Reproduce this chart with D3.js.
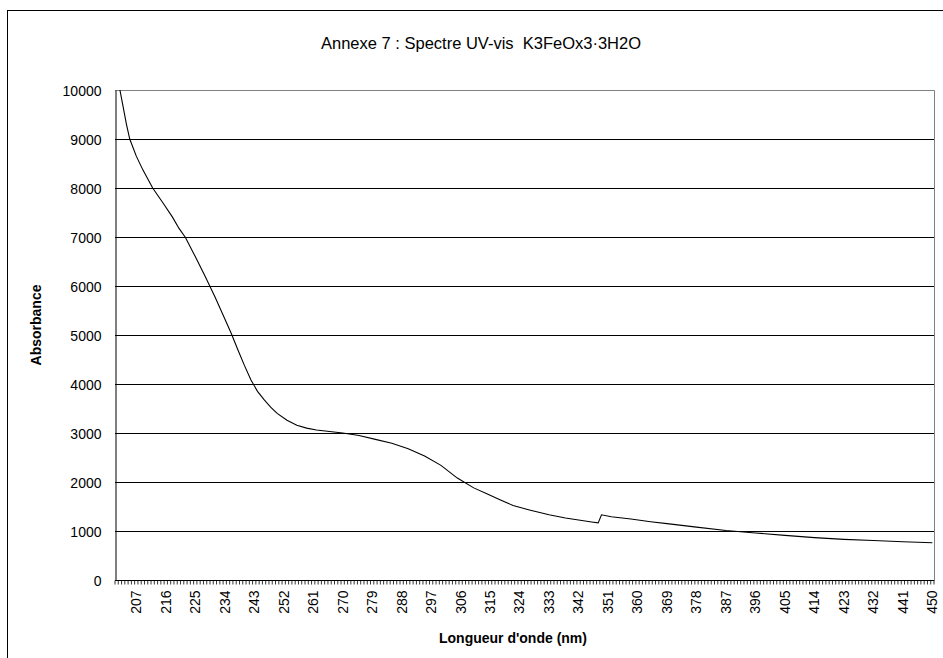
<!DOCTYPE html>
<html>
<head>
<meta charset="utf-8">
<script src="https://cdn.jsdelivr.net/npm/d3@7"></script>
<style>
  html, body { margin: 0; padding: 0; background: #fff; }
  svg { display: block; font-family: "Liberation Sans", Arial, sans-serif; }
  .title { white-space: pre; }
</style>
</head>
<body>
<svg id="chart" width="943" height="658"></svg>
<script>
// ---- data ----
const title = "Annexe 7 : Spectre UV-vis  K3FeOx3\u00B73H2O";
const xTitle = "Longueur d'onde (nm)";
const yTitle = "Absorbance";
const categoryFirst = 201;
const categoryLast = 450;
const xTickLabels = [207, 216, 225, 234, 243, 252, 261, 270, 279, 288, 297, 306, 315, 324, 333, 342, 351, 360, 369, 378, 387, 396, 405, 414, 423, 432, 441, 450];
const yTickValues = [0, 1000, 2000, 3000, 4000, 5000, 6000, 7000, 8000, 9000, 10000];
const wavelengths = [201, 202, 203, 204, 205, 207, 209, 212, 215, 218, 220, 222, 225, 228, 231, 234, 236, 238, 240, 242, 244, 246, 248, 250, 253, 256, 259, 262, 266, 270, 275, 280, 285, 290, 295, 300, 305, 310, 314, 318, 322, 327, 333, 338, 343, 346, 348, 349, 352, 358, 364, 369, 378, 387, 396, 405, 414, 423, 432, 441, 450];
const absorbance = [10400, 10000, 9650, 9300, 9000, 8650, 8370, 8000, 7710, 7410, 7180, 6990, 6600, 6200, 5780, 5330, 5030, 4700, 4380, 4080, 3850, 3680, 3530, 3400, 3260, 3160, 3100, 3060, 3030, 3000, 2950, 2870, 2790, 2680, 2530, 2340, 2080, 1880, 1760, 1640, 1520, 1430, 1330, 1265, 1215, 1185, 1165, 1330, 1290, 1245, 1190, 1150, 1080, 1010, 960, 910, 865, 830, 805, 780, 760];

// ---- layout ----
const svg = d3.select("#chart");
const plot = { left: 115, right: 934, top: 90, bottom: 580 };

const x = d3.scaleLinear().domain([categoryFirst - 0.5, categoryLast + 0.5]).range([plot.left, plot.right]);
const y = d3.scaleLinear().domain([0, 10000]).range([plot.bottom, plot.top]);

// outer chart frame
svg.append("rect").attr("x", 7.5).attr("y", 10.5).attr("width", 960).attr("height", 700)
  .attr("fill", "#fff").attr("stroke", "#000").attr("stroke-width", 1);

// title
svg.append("text").attr("class", "title").attr("x", 481).attr("y", 49).attr("text-anchor", "middle")
  .attr("font-size", 16.5).attr("fill", "#000").text(title);

// gridlines
svg.append("g").selectAll("line").data(yTickValues.filter(v => v > 0 && v < 10000)).join("line")
  .attr("x1", plot.left).attr("x2", plot.right)
  .attr("y1", d => Math.round(y(d)) + 0.5).attr("y2", d => Math.round(y(d)) + 0.5)
  .attr("stroke", "#000").attr("stroke-width", 1);

// plot border (top & right gray)
svg.append("path")
  .attr("d", `M${plot.left},${plot.top + 0.5}H${plot.right + 0.5}V${plot.bottom}`)
  .attr("fill", "none").attr("stroke", "#808080").attr("stroke-width", 1);

// clip
svg.append("clipPath").attr("id", "clip").append("rect")
  .attr("x", plot.left).attr("y", plot.top).attr("width", plot.right - plot.left).attr("height", plot.bottom - plot.top);

// line
const pts = wavelengths.map((w, i) => [w, absorbance[i]]);
svg.append("path").datum(pts)
  .attr("clip-path", "url(#clip)")
  .attr("fill", "none").attr("stroke", "#000").attr("stroke-width", 1.1)
  .attr("d", d3.line().x(d => x(d[0])).y(d => y(d[1])));

// y axis
const yAxis = d3.axisLeft(y).tickValues(yTickValues).tickSize(0).tickPadding(14).tickFormat(d3.format("d"));
const gy = svg.append("g").attr("transform", `translate(${plot.left + 0.5},0)`).call(yAxis);
gy.select(".domain").attr("stroke", "#000");
gy.selectAll("text").attr("font-size", 14).attr("font-family", "Liberation Sans, Arial, sans-serif").attr("fill", "#000").attr("dy", "0.4em");

// x axis: ticks at every category boundary
const boundaries = d3.range(categoryFirst - 0.5, categoryLast + 1, 1);
const gx = svg.append("g").attr("transform", `translate(0,${plot.bottom + 0.5})`);
gx.append("line").attr("x1", plot.left).attr("x2", plot.right + 0.5).attr("y1", 0).attr("y2", 0).attr("stroke", "#000");
gx.selectAll("line.tick").data(boundaries).join("line").attr("class", "tick")
  .attr("x1", d => x(d)).attr("x2", d => x(d)).attr("y1", 0).attr("y2", 4)
  .attr("stroke", "#000").attr("stroke-width", 0.8);
gx.selectAll("text").data(xTickLabels).join("text")
  .attr("transform", d => `translate(${x(d)},${10}) rotate(-90)`)
  .attr("text-anchor", "end").attr("dy", "0.35em")
  .attr("font-size", 14).attr("fill", "#000").text(d => d);

// axis titles
svg.append("text").attr("x", 513).attr("y", 643).attr("text-anchor", "middle")
  .attr("font-size", 14).attr("font-weight", "bold").attr("fill", "#000").text(xTitle);
svg.append("text").attr("transform", "translate(41,325) rotate(-90)").attr("text-anchor", "middle")
  .attr("font-size", 14).attr("font-weight", "bold").attr("fill", "#000").text(yTitle);
</script>
</body>
</html>
